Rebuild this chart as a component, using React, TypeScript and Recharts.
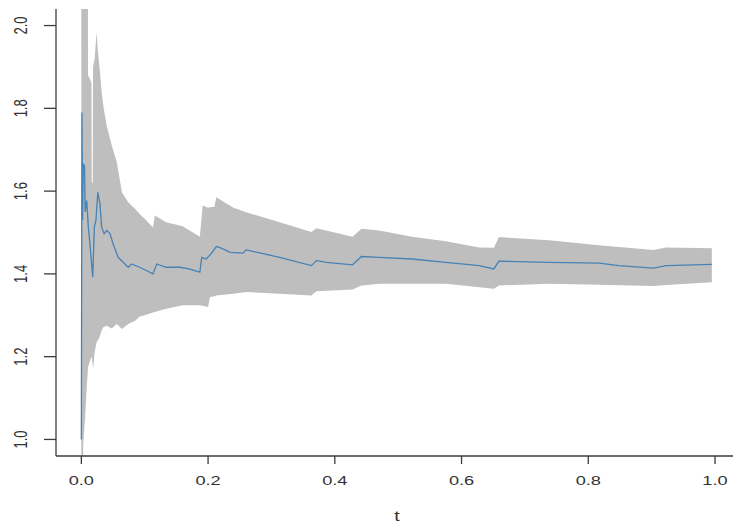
import React from 'react';
import { ComposedChart, Area, Line, XAxis, YAxis, Label } from 'recharts';

// Confidence band (lower / upper) sampled at bandT
const bandT = [0, 0.003, 0.006, 0.0085, 0.01, 0.0105, 0.0137, 0.016, 0.0164, 0.018, 0.0185, 0.021, 0.024, 0.026, 0.0294, 0.032, 0.0346, 0.04, 0.048, 0.056, 0.064, 0.074, 0.085, 0.092, 0.1, 0.113, 0.116, 0.134, 0.16, 0.187, 0.1915, 0.2, 0.203, 0.21, 0.213, 0.24, 0.26, 0.313, 0.363, 0.371, 0.428, 0.442, 0.47, 0.522, 0.575, 0.628, 0.651, 0.659, 0.738, 0.817, 0.903, 0.923, 0.995];
const bandLow = [0.5, 0.99, 1.054, 1.126, 1.16, 1.175, 1.19, 1.199, 1.199, 1.18, 1.17, 1.21, 1.235, 1.239, 1.25, 1.263, 1.271, 1.275, 1.268, 1.279, 1.267, 1.279, 1.287, 1.297, 1.3, 1.307, 1.308, 1.316, 1.324, 1.324, 1.323, 1.32, 1.344, 1.346, 1.348, 1.352, 1.356, 1.352, 1.348, 1.358, 1.362, 1.372, 1.376, 1.376, 1.376, 1.368, 1.364, 1.372, 1.376, 1.374, 1.371, 1.373, 1.38];
const bandHigh = [2.6, 2.6, 2.6, 2.6, 2.6, 1.88, 1.87, 1.86, 1.62, 1.62, 1.9, 1.92, 1.984, 1.94, 1.887, 1.84, 1.807, 1.758, 1.71, 1.67, 1.597, 1.573, 1.557, 1.545, 1.533, 1.512, 1.541, 1.525, 1.515, 1.49, 1.565, 1.56, 1.561, 1.562, 1.585, 1.56, 1.549, 1.525, 1.501, 1.51, 1.49, 1.509, 1.505, 1.49, 1.479, 1.464, 1.463, 1.489, 1.481, 1.469, 1.458, 1.464, 1.462];

// Running estimate
const estT = [0, 0.0005, 0.001, 0.002, 0.003, 0.005, 0.006, 0.0085, 0.011, 0.0137, 0.0164, 0.018, 0.0205, 0.023, 0.026, 0.0294, 0.032, 0.036, 0.04, 0.045, 0.05, 0.058, 0.066, 0.074, 0.079, 0.092, 0.1, 0.113, 0.119, 0.134, 0.155, 0.17, 0.187, 0.19, 0.197, 0.205, 0.213, 0.218, 0.235, 0.255, 0.26, 0.313, 0.363, 0.371, 0.387, 0.428, 0.442, 0.47, 0.522, 0.575, 0.628, 0.651, 0.659, 0.738, 0.817, 0.848, 0.903, 0.923, 0.995];
const estValue = [1.0, 1.4, 1.79, 1.53, 1.666, 1.66, 1.55, 1.577, 1.513, 1.47, 1.42, 1.392, 1.513, 1.529, 1.597, 1.569, 1.513, 1.497, 1.505, 1.498, 1.473, 1.44, 1.428, 1.416, 1.424, 1.416, 1.41, 1.4, 1.424, 1.416, 1.416, 1.412, 1.404, 1.44, 1.436, 1.449, 1.466, 1.464, 1.452, 1.45, 1.458, 1.44, 1.42, 1.432, 1.428, 1.422, 1.442, 1.44, 1.436, 1.428, 1.42, 1.412, 1.431, 1.428, 1.426, 1.42, 1.414, 1.42, 1.423];

const xTicks = [0, 0.2, 0.4, 0.6, 0.8, 1.0];
const yTicks = [1.0, 1.2, 1.4, 1.6, 1.8, 2.0];

const bandData = bandT.map((t, i) => ({ t, band: [bandLow[i], bandHigh[i]] }));
const estData = estT.map((t, i) => ({ t, est: estValue[i] }));

const FONT = '"Liberation Sans", Arial, Helvetica, sans-serif';
const AXIS = '#3c3c3c';

const XTick = (props: any) => {
  const { x, y, payload } = props;
  return (
    <g transform={`translate(${x},${y})`}>
      <text transform="scale(1.4,1)" textAnchor="middle" dy="0.71em" fontSize={13} fill="#333" fontFamily={FONT}>
        {Number(payload.value).toFixed(1)}
      </text>
    </g>
  );
};

const YTick = (props: any) => {
  const { x, y, payload } = props;
  return (
    <g transform={`translate(${x},${y}) scale(1.4,1) rotate(-90)`}>
      <text textAnchor="middle" fontSize={13} fill="#333" fontFamily={FONT}>
        {Number(payload.value).toFixed(1)}
      </text>
    </g>
  );
};

const XTitle = (props: any) => {
  const vb = props.viewBox;
  const cx = vb.x + vb.width / 2 + 2.5;
  const cy = vb.y + vb.height - 4;
  return (
    <g transform={`translate(${cx},${cy}) scale(1.4,1)`}>
      <text textAnchor="middle" fontSize={14} fill="#333" fontFamily={FONT}>t</text>
    </g>
  );
};

export default function App() {
  return (
    <div style={{ position: 'absolute', left: 0, top: 0, width: 733, height: 525, background: '#fff' }}>
      <ComposedChart width={733} height={525} margin={{ top: 9, right: 0, bottom: 0, left: 0 }}>
        <XAxis
          xAxisId="x"
          dataKey="t"
          type="number"
          domain={[-0.04, 1.0284]}
          allowDataOverflow
          ticks={xTicks}
          tick={<XTick />}
          tickSize={8}
          tickMargin={12}
          height={69}
          stroke={AXIS}
          axisLine={{ stroke: AXIS, strokeWidth: 1.3 }}
          tickLine={{ stroke: AXIS, strokeWidth: 1.3 }}
        >
          <Label content={<XTitle />} />
        </XAxis>
        <XAxis
          xAxisId="top"
          orientation="top"
          type="number"
          domain={[-0.04, 1.0284]}
          allowDataOverflow
          tick={false}
          tickLine={false}
          height={0}
          axisLine={{ stroke: AXIS, strokeWidth: 1.3 }}
        />
        <YAxis
          type="number"
          domain={[0.96, 2.04]}
          allowDataOverflow
          ticks={yTicks}
          tick={<YTick />}
          tickSize={12}
          tickMargin={17}
          width={56}
          axisLine={{ stroke: AXIS, strokeWidth: 1.3 }}
          tickLine={{ stroke: AXIS, strokeWidth: 1.3 }}
        />
        <Area
          xAxisId="x"
          data={bandData}
          dataKey="band"
          type="linear"
          fill="#BEBEBE"
          fillOpacity={1}
          stroke="none"
          isAnimationActive={false}
        />
        <Line
          xAxisId="x"
          data={estData}
          dataKey="est"
          type="linear"
          stroke="#4682B4"
          strokeWidth={1.3}
          dot={false}
          isAnimationActive={false}
        />
      </ComposedChart>
    </div>
  );
}
